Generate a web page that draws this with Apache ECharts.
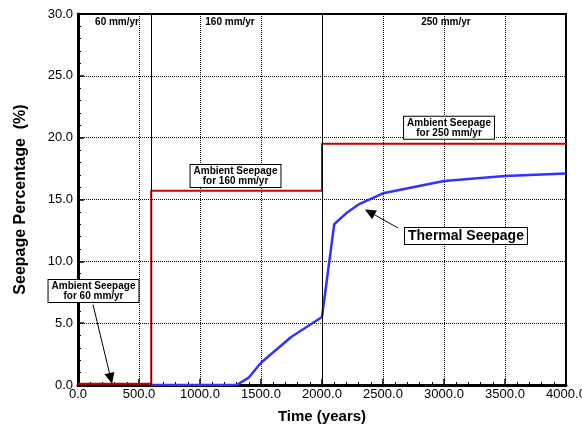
<!DOCTYPE html>
<html>
<head>
<meta charset="utf-8">
<script src="https://cdn.jsdelivr.net/npm/echarts@6/dist/echarts.min.js"></script>
<style>
  html, body { margin: 0; padding: 0; background: #fff; }
  #chart { width: 582px; height: 429px; }
</style>
</head>
<body>
<div id="chart"></div>
<script>
// data
var ambient = [[0, 0.1], [600, 0.1], [600, 15.7], [2000, 15.7], [2000, 19.5], [4000, 19.5]];
var thermal = [[600, 0], [1300, 0], [1400, 0.6], [1500, 1.8], [1750, 3.9], [2000, 5.5],
  [2100, 13.0], [2200, 13.9], [2300, 14.6], [2500, 15.5], [3000, 16.5], [3500, 16.9], [4000, 17.1]];
var periodBreaks = [600, 2000];
var periodLabels = ["60 mm/yr", "160 mm/yr", "250 mm/yr"];
var periodLabelX = [320, 1246, 3016];

var font = "'Liberation Sans', Arial, sans-serif";
var chart = echarts.init(document.getElementById("chart"));

chart.setOption({
  animation: false,
  grid: {
    left: 78, right: 16, top: 14, bottom: 44,
    outerBoundsMode: "none", containLabel: false,
    show: true, borderColor: "#000", borderWidth: 2
  },
  xAxis: {
    type: "value", min: 0, max: 4000, interval: 500,
    name: "Time (years)", nameLocation: "middle", nameGap: 24,
    nameTextStyle: { fontFamily: font, fontWeight: "bold", fontSize: 15, color: "#000" },
    axisLine: { lineStyle: { color: "#000", width: 3 } },
    axisTick: { inside: true, length: 6, lineStyle: { color: "#000", width: 1.5 } },
    minorTick: { show: true, splitNumber: 5, length: 3, lineStyle: { color: "#000", width: 1 } },
    axisLabel: {
      fontFamily: font, fontSize: 13, color: "#000", margin: 3, hideOverlap: false,
      alignMinLabel: "center", alignMaxLabel: "center",
      formatter: function (v) { return v.toFixed(1); }
    },
    splitLine: { lineStyle: { color: "#000", type: [1, 1], width: 1 } }
  },
  yAxis: {
    type: "value", min: 0, max: 30, interval: 5,
    name: "Seepage Percentage  (%)", nameLocation: "middle", nameGap: 49,
    nameTextStyle: { fontFamily: font, fontWeight: "bold", fontSize: 16, color: "#000" },
    axisLine: { show: true, lineStyle: { color: "#000", width: 3 } },
    axisTick: { show: true, inside: true, length: 6, lineStyle: { color: "#000", width: 1.5 } },
    minorTick: { show: true, splitNumber: 5, length: 3, lineStyle: { color: "#000", width: 1 } },
    axisLabel: {
      fontFamily: font, fontSize: 13, color: "#000", margin: 5,
      formatter: function (v) { return v.toFixed(1); }
    },
    splitLine: { lineStyle: { color: "#000", type: [1, 1], width: 1 } }
  },
  series: [
    {
      name: "breaks", type: "line", data: [], silent: true,
      markLine: {
        silent: true, symbol: "none", label: { show: false },
        lineStyle: { color: "#000", type: "solid", width: 1 },
        data: periodBreaks.map(function (x) { return { xAxis: x }; })
      }
    },
    {
      name: "Ambient Seepage", type: "line", data: ambient, showSymbol: false,
      lineStyle: { color: "#cc0000", width: 2 }, z: 3
    },
    {
      name: "Thermal Seepage", type: "line", data: thermal, showSymbol: false,
      lineStyle: { color: "#3333ff", width: 2.5 }, z: 4
    }
  ]
});

// annotations placed in data coordinates
function px(x, y) { return chart.convertToPixel({ gridIndex: 0 }, [x, y]); }

function box(text, x, y, size) {
  var p = px(x, y);
  return {
    type: "text", x: p[0], y: p[1], z: 10,
    style: {
      text: text, fontFamily: font, fontWeight: "bold", fontSize: size,
      lineHeight: size, fill: "#000", align: "center", verticalAlign: "middle",
      backgroundColor: "#fff", borderColor: "#000", borderWidth: 1, padding: [1, 3, 1, 3]
    }
  };
}

function arrow(from, to) {
  var a = px(from[0], from[1]), b = px(to[0], to[1]);
  var dx = b[0] - a[0], dy = b[1] - a[1], len = Math.sqrt(dx * dx + dy * dy);
  var ux = dx / len, uy = dy / len, hl = 11, hw = 5;
  var bx = b[0] - ux * hl, by = b[1] - uy * hl;
  return [
    { type: "line", z: 9, shape: { x1: a[0], y1: a[1], x2: bx, y2: by }, style: { stroke: "#000", lineWidth: 1 } },
    { type: "polygon", z: 9, shape: { points: [[b[0], b[1]], [bx - uy * hw, by + ux * hw], [bx + uy * hw, by - ux * hw]] }, style: { fill: "#000" } }
  ];
}

var g = [];
periodLabels.forEach(function (t, i) {
  var p = px(periodLabelX[i], 29.3);
  g.push({ type: "text", x: p[0], y: p[1], z: 10,
    style: { text: t, fontFamily: font, fontWeight: "bold", fontSize: 10, fill: "#000", align: "center", verticalAlign: "middle" } });
});
g = g.concat(arrow([123, 6.5], [279, 0.1]));
g = g.concat(arrow([2623, 12.7], [2352, 14.2]));
g.push(box("Ambient Seepage\nfor 160 mm/yr", 1291, 16.9, 10));
g.push(box("Ambient Seepage\nfor 250 mm/yr", 3041, 20.8, 10));
g.push(box("Ambient Seepage\nfor 60 mm/yr", 127, 7.6, 10));
g.push(box("Thermal Seepage", 3180, 12.05, 14));
chart.setOption({ graphic: g });
</script>
</body>
</html>
